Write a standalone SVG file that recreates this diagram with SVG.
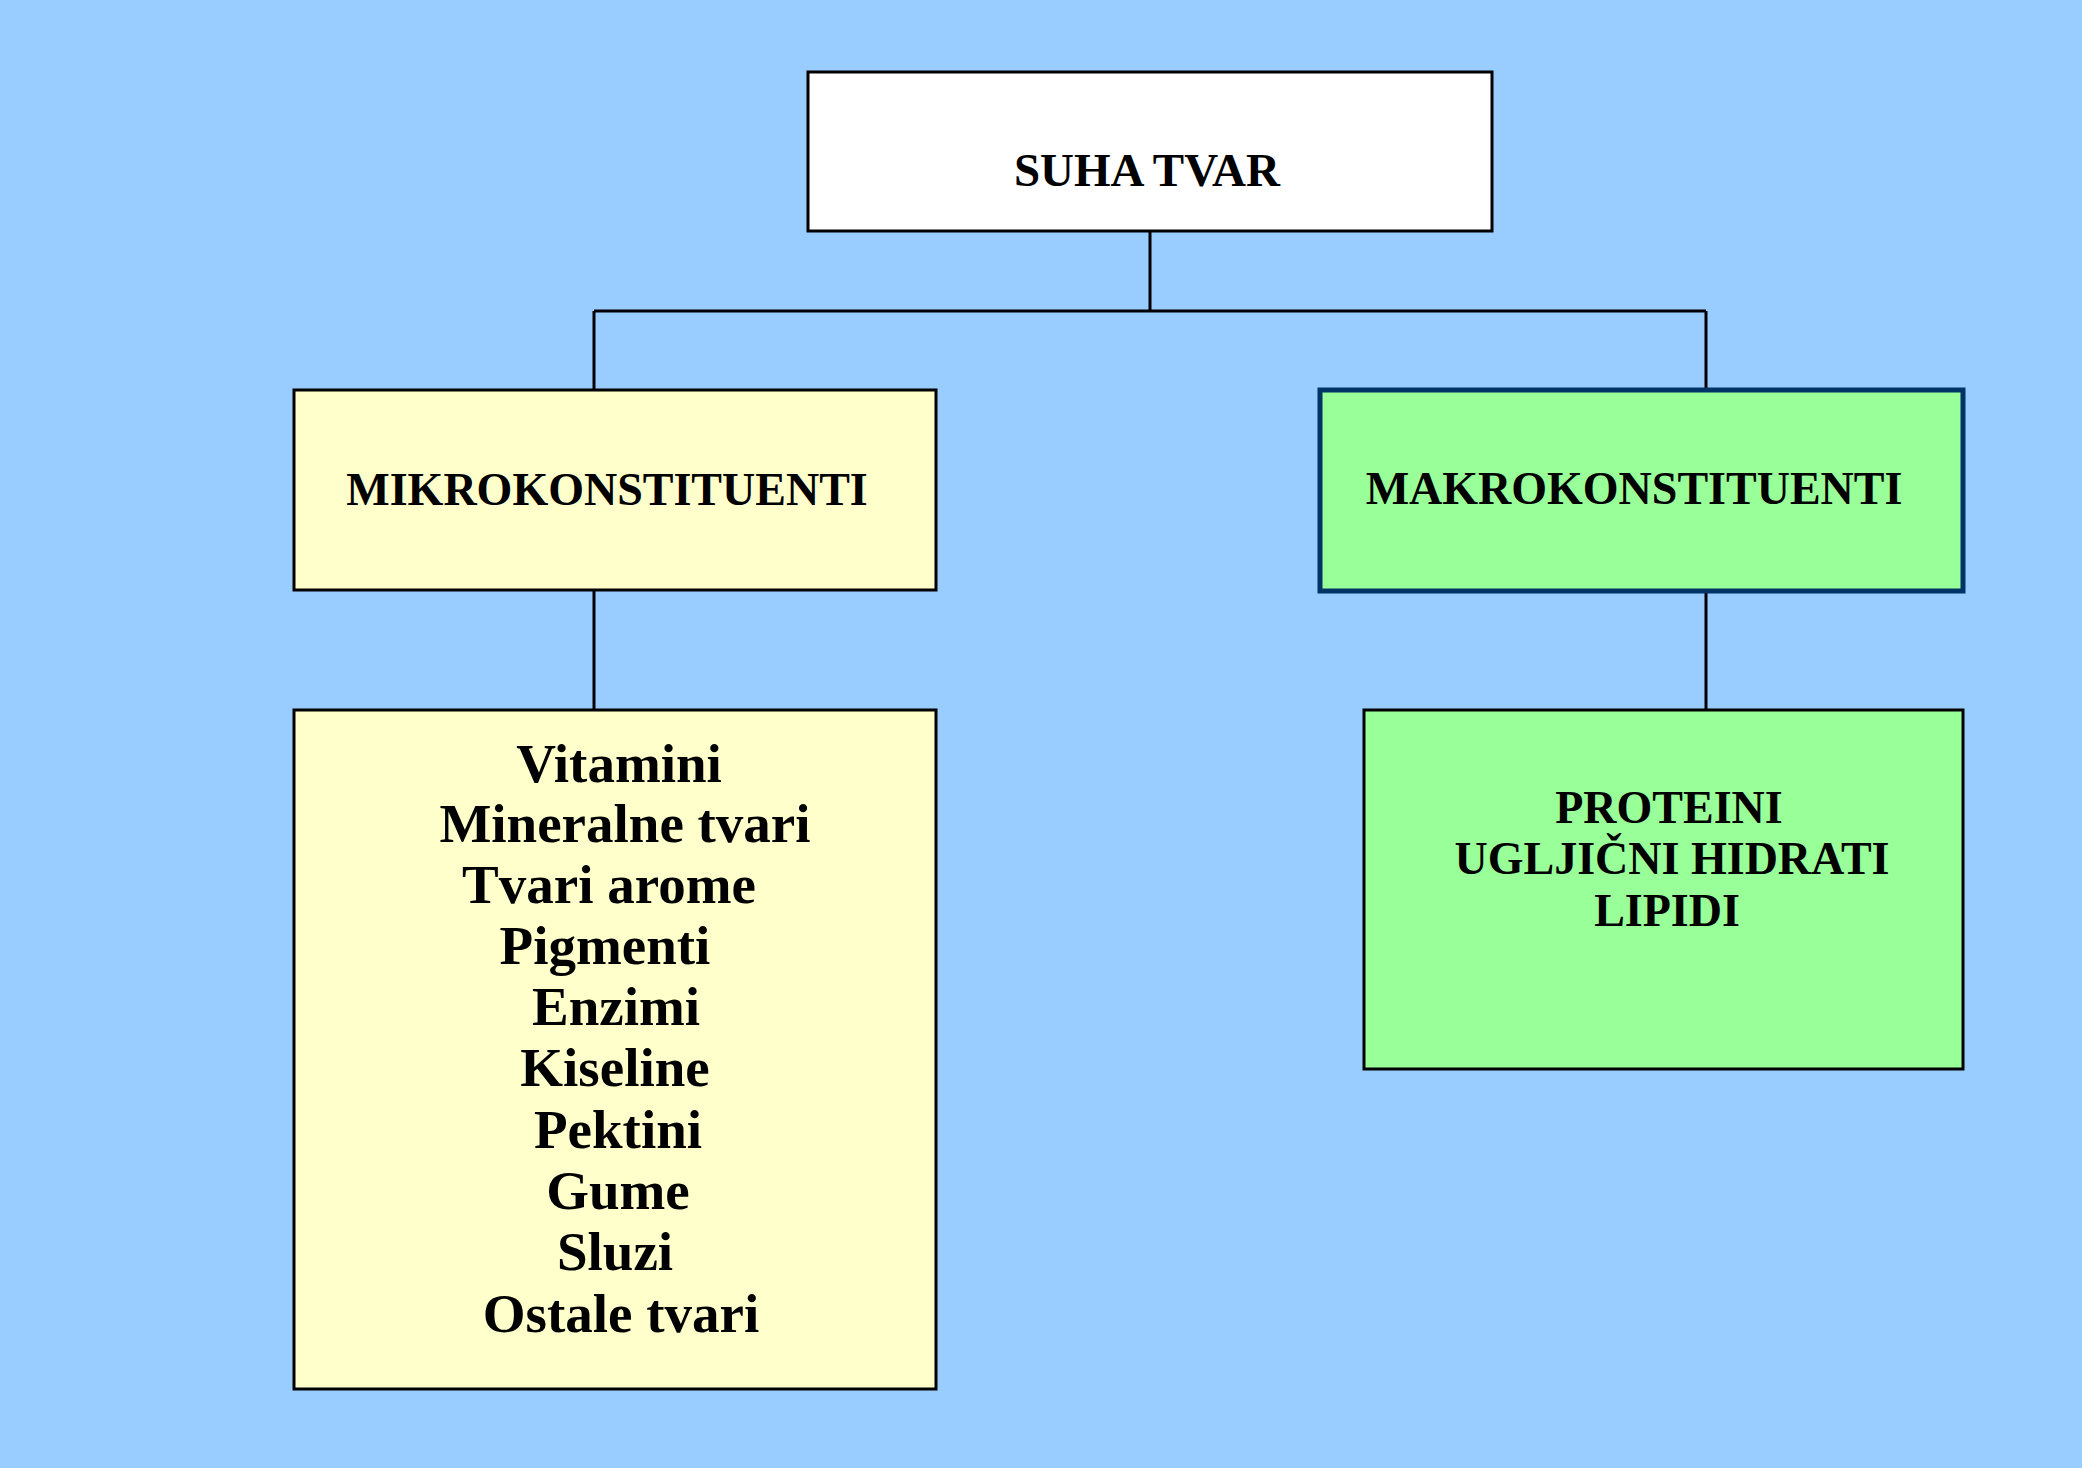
<svg xmlns="http://www.w3.org/2000/svg" width="2082" height="1468" viewBox="0 0 2082 1468">
<style>
.box{stroke:#000;stroke-width:3}
.t{font-family:"Liberation Serif","Times New Roman",serif;font-weight:bold;fill:#000;text-anchor:middle}
.conn{fill:none;stroke:#000;stroke-width:3}
</style>
<rect x="0" y="0" width="2082" height="1468" fill="#99CCFF"/>
<g id="connectors">
<path class="conn" d="M1150 231 V311 M594 311 H1706 M594 311 V390 M1706 311 V390 M594 590 V710 M1706 591 V710"/>
</g>
<g id="suha-tvar">
<rect class="box" x="808" y="72" width="684" height="159" fill="#FFFFFF"/>
<text class="t" x="1147" y="186" font-size="47">SUHA TVAR</text>
</g>
<g id="mikrokonstituenti">
<rect class="box" x="294" y="390" width="642" height="200" fill="#FFFFCC"/>
<text class="t" x="607" y="505" font-size="46">MIKROKONSTITUENTI</text>
</g>
<g id="makrokonstituenti">
<rect x="1320" y="390" width="643" height="201" fill="#99FF99" stroke="#003366" stroke-width="5"/>
<text class="t" x="1634" y="504" font-size="46">MAKROKONSTITUENTI</text>
</g>
<g id="mikro-list">
<rect class="box" x="294" y="710" width="642" height="679" fill="#FFFFCC"/>
<g font-size="55">
<text class="t" x="619" y="782">Vitamini</text>
<text class="t" x="625" y="842">Mineralne tvari</text>
<text class="t" x="609" y="903">Tvari arome</text>
<text class="t" x="605" y="964">Pigmenti</text>
<text class="t" x="616" y="1025">Enzimi</text>
<text class="t" x="615" y="1086">Kiseline</text>
<text class="t" x="618" y="1148">Pektini</text>
<text class="t" x="618" y="1209">Gume</text>
<text class="t" x="615" y="1270">Sluzi</text>
<text class="t" x="621" y="1332">Ostale tvari</text>
</g>
</g>
<g id="makro-list">
<rect class="box" x="1364" y="710" width="599" height="359" fill="#99FF99"/>
<g font-size="46">
<text class="t" x="1669" y="823">PROTEINI</text>
<text class="t" x="1672" y="874">UGLJIČNI HIDRATI</text>
<text class="t" x="1667" y="926">LIPIDI</text>
</g>
</g>
</svg>
